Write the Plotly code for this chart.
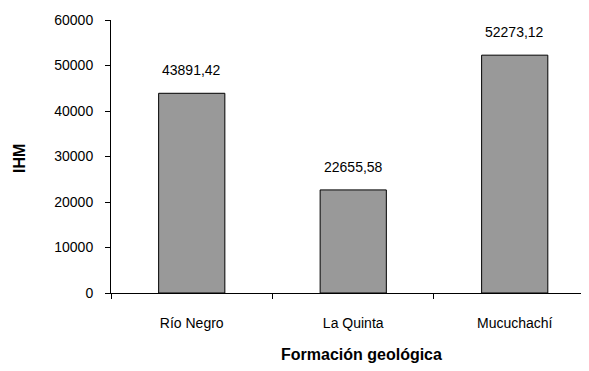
import plotly.graph_objects as go

categories = ["Río Negro", "La Quinta", "Mucuchachí"]
values = [43891.42, 22655.58, 52273.12]
labels = ["43891,42", "22655,58", "52273,12"]

FONT = "Liberation Sans, Arial"

fig = go.Figure()
fig.add_trace(go.Bar(
    x=categories, y=values,
    marker=dict(color="#999999", line=dict(color="#000000", width=1)),
    width=0.41,
))

for c, v, t in zip(categories, values, labels):
    fig.add_annotation(x=c, y=v, text=t, showarrow=False, yanchor="bottom",
                       yshift=13, font=dict(family=FONT, size=14, color="#000"))

fig.add_annotation(xref="paper", yref="paper", x=(361-111)/(589-111), y=-(354-293)/273,
                   text="<b>Formación geológica</b>", showarrow=False,
                   xanchor="center", yanchor="middle",
                   font=dict(family=FONT, size=16, color="#000"))
fig.add_annotation(xref="paper", yref="paper", x=-(111-19)/(589-111), y=(293-159)/273,
                   text="<b>IHM</b>", showarrow=False, textangle=-90,
                   xanchor="center", yanchor="middle",
                   font=dict(family=FONT, size=16, color="#000"))

# page body has an 8px default margin, so the figure is offset by (8, 8)
fig.update_layout(
    width=581, height=363,
    margin=dict(l=103, r=0, t=12, b=78),
    paper_bgcolor="white", plot_bgcolor="white",
    showlegend=False,
    font=dict(family=FONT, size=14, color="#000"),
)
fig.update_xaxes(
    type="category", range=[-0.5, 2.46],
    showline=True, linecolor="#000", linewidth=1,
    ticks="outside", ticklen=5, tickcolor="#000", tickson="boundaries",
    ticklabelstandoff=17, showgrid=False, zeroline=False,
)
fig.update_yaxes(
    range=[0, 60000], dtick=10000, tickformat="d",
    showline=True, linecolor="#000", linewidth=1,
    ticks="outside", ticklen=5, tickcolor="#000",
    ticklabelstandoff=9, showgrid=False, zeroline=False,
)

fig.write_html("out.html")
